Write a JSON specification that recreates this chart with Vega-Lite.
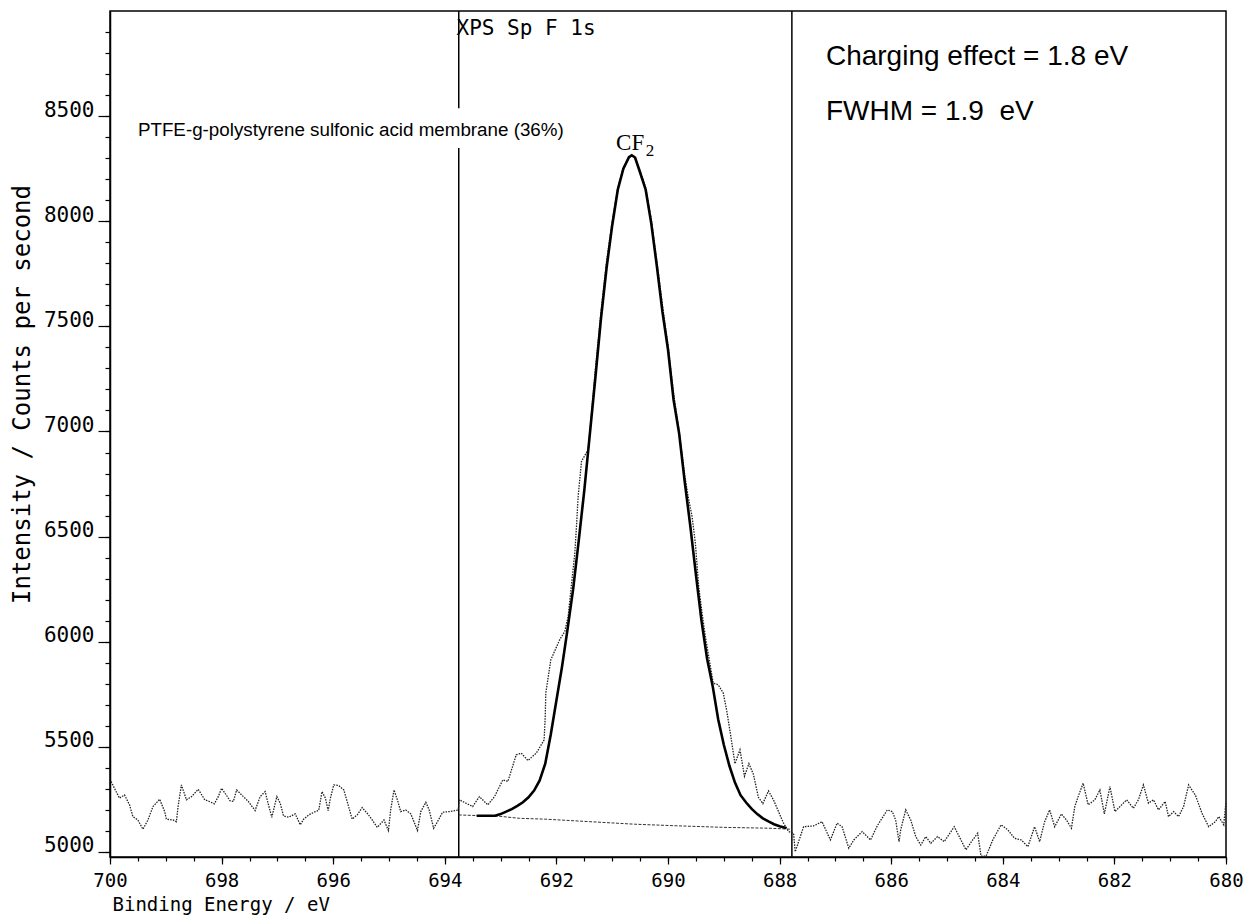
{
  "$schema": "https://vega.github.io/schema/vega-lite/v6.json",
  "width": 1116,
  "height": 846,
  "autosize": {"type": "none"},
  "padding": {"left": 110, "top": 11, "right": 22, "bottom": 58},
  "background": "white",
  "config": {
    "view": {"stroke": "black", "strokeWidth": 1.5},
    "axis": {"grid": false, "domainColor": "black", "domainWidth": 1.5, "tickColor": "black", "tickWidth": 1.2, "labelColor": "black", "titleColor": "black", "labelFont": "DejaVu Sans Mono", "titleFont": "DejaVu Sans Mono", "titleFontWeight": "normal", "labelOverlap": false, "labelBound": false, "labelFlush": false}
  },
  "resolve": {"axis": {"x": "independent", "y": "independent"}},
  "datasets": {
    "raw": [
      {"E": 699.98, "I": 5335}, {"E": 699.92, "I": 5303}, {"E": 699.83, "I": 5256}, {"E": 699.74, "I": 5271}, {"E": 699.65, "I": 5224}, {"E": 699.59, "I": 5168}, {"E": 699.50, "I": 5152}, {"E": 699.41, "I": 5108}, {"E": 699.32, "I": 5152}, {"E": 699.23, "I": 5216}, {"E": 699.11, "I": 5251}, {"E": 699.02, "I": 5192}, {"E": 698.99, "I": 5156}, {"E": 698.87, "I": 5152}, {"E": 698.81, "I": 5144}, {"E": 698.78, "I": 5216}, {"E": 698.72, "I": 5319}, {"E": 698.63, "I": 5248}, {"E": 698.54, "I": 5263}, {"E": 698.42, "I": 5298}, {"E": 698.30, "I": 5248}, {"E": 698.22, "I": 5240}, {"E": 698.13, "I": 5229}, {"E": 698.06, "I": 5263}, {"E": 698.00, "I": 5303}, {"E": 697.94, "I": 5280}, {"E": 697.85, "I": 5244}, {"E": 697.79, "I": 5240}, {"E": 697.73, "I": 5295}, {"E": 697.64, "I": 5271}, {"E": 697.52, "I": 5240}, {"E": 697.40, "I": 5197}, {"E": 697.31, "I": 5263}, {"E": 697.22, "I": 5287}, {"E": 697.16, "I": 5224}, {"E": 697.10, "I": 5165}, {"E": 697.01, "I": 5263}, {"E": 696.95, "I": 5232}, {"E": 696.89, "I": 5171}, {"E": 696.80, "I": 5165}, {"E": 696.68, "I": 5181}, {"E": 696.59, "I": 5129}, {"E": 696.53, "I": 5156}, {"E": 696.44, "I": 5176}, {"E": 696.32, "I": 5192}, {"E": 696.26, "I": 5197}, {"E": 696.20, "I": 5287}, {"E": 696.14, "I": 5256}, {"E": 696.09, "I": 5197}, {"E": 696.05, "I": 5256}, {"E": 695.99, "I": 5319}, {"E": 695.90, "I": 5316}, {"E": 695.81, "I": 5295}, {"E": 695.75, "I": 5240}, {"E": 695.66, "I": 5156}, {"E": 695.57, "I": 5176}, {"E": 695.48, "I": 5211}, {"E": 695.39, "I": 5184}, {"E": 695.30, "I": 5152}, {"E": 695.21, "I": 5117}, {"E": 695.09, "I": 5152}, {"E": 695.01, "I": 5102}, {"E": 694.97, "I": 5200}, {"E": 694.91, "I": 5295}, {"E": 694.85, "I": 5248}, {"E": 694.79, "I": 5192}, {"E": 694.70, "I": 5200}, {"E": 694.61, "I": 5181}, {"E": 694.49, "I": 5102}, {"E": 694.43, "I": 5192}, {"E": 694.34, "I": 5236}, {"E": 694.28, "I": 5200}, {"E": 694.20, "I": 5113}, {"E": 694.13, "I": 5144}, {"E": 694.04, "I": 5189}, {"E": 693.92, "I": 5192}, {"E": 693.80, "I": 5197}, {"E": 693.76, "I": 5200}, {"E": 693.74, "I": 5248}, {"E": 693.50, "I": 5216}, {"E": 693.38, "I": 5263}, {"E": 693.23, "I": 5224}, {"E": 693.11, "I": 5263}, {"E": 692.96, "I": 5343}, {"E": 692.87, "I": 5335}, {"E": 692.72, "I": 5462}, {"E": 692.63, "I": 5470}, {"E": 692.51, "I": 5435}, {"E": 692.36, "I": 5470}, {"E": 692.22, "I": 5533}, {"E": 692.20, "I": 5644}, {"E": 692.19, "I": 5756}, {"E": 692.10, "I": 5914}, {"E": 691.94, "I": 6010}, {"E": 691.85, "I": 6049}, {"E": 691.79, "I": 6120}, {"E": 691.67, "I": 6422}, {"E": 691.64, "I": 6549}, {"E": 691.61, "I": 6692}, {"E": 691.55, "I": 6858}, {"E": 691.43, "I": 6914}, {"E": 691.35, "I": 7150}, {"E": 691.30, "I": 7300}, {"E": 691.20, "I": 7570}, {"E": 691.10, "I": 7810}, {"E": 691.00, "I": 8000}, {"E": 690.90, "I": 8160}, {"E": 690.80, "I": 8255}, {"E": 690.70, "I": 8300}, {"E": 690.65, "I": 8312}, {"E": 690.60, "I": 8305}, {"E": 690.50, "I": 8240}, {"E": 690.40, "I": 8160}, {"E": 690.30, "I": 8010}, {"E": 690.20, "I": 7810}, {"E": 690.10, "I": 7600}, {"E": 690.00, "I": 7410}, {"E": 689.90, "I": 7180}, {"E": 689.80, "I": 7000}, {"E": 689.70, "I": 6790}, {"E": 689.64, "I": 6692}, {"E": 689.57, "I": 6597}, {"E": 689.51, "I": 6470}, {"E": 689.45, "I": 6263}, {"E": 689.39, "I": 6137}, {"E": 689.33, "I": 6025}, {"E": 689.19, "I": 5803}, {"E": 689.10, "I": 5795}, {"E": 689.01, "I": 5756}, {"E": 688.95, "I": 5676}, {"E": 688.88, "I": 5560}, {"E": 688.80, "I": 5420}, {"E": 688.71, "I": 5486}, {"E": 688.63, "I": 5360}, {"E": 688.55, "I": 5420}, {"E": 688.47, "I": 5370}, {"E": 688.38, "I": 5260}, {"E": 688.30, "I": 5230}, {"E": 688.20, "I": 5290}, {"E": 688.11, "I": 5248}, {"E": 688.00, "I": 5180}, {"E": 687.93, "I": 5137}, {"E": 687.84, "I": 5097}, {"E": 687.75, "I": 5089}, {"E": 687.72, "I": 5001}, {"E": 687.57, "I": 5120}, {"E": 687.39, "I": 5124}, {"E": 687.24, "I": 5144}, {"E": 687.09, "I": 5057}, {"E": 686.97, "I": 5137}, {"E": 686.88, "I": 5120}, {"E": 686.76, "I": 5018}, {"E": 686.67, "I": 5057}, {"E": 686.52, "I": 5097}, {"E": 686.37, "I": 5057}, {"E": 686.25, "I": 5124}, {"E": 686.07, "I": 5200}, {"E": 685.98, "I": 5192}, {"E": 685.92, "I": 5152}, {"E": 685.86, "I": 5049}, {"E": 685.83, "I": 5105}, {"E": 685.74, "I": 5200}, {"E": 685.65, "I": 5152}, {"E": 685.56, "I": 5073}, {"E": 685.47, "I": 5033}, {"E": 685.38, "I": 5073}, {"E": 685.29, "I": 5041}, {"E": 685.17, "I": 5073}, {"E": 685.05, "I": 5049}, {"E": 684.87, "I": 5120}, {"E": 684.75, "I": 5057}, {"E": 684.66, "I": 5010}, {"E": 684.54, "I": 5057}, {"E": 684.45, "I": 5089}, {"E": 684.39, "I": 4980}, {"E": 684.30, "I": 4980}, {"E": 684.18, "I": 5057}, {"E": 684.03, "I": 5129}, {"E": 683.91, "I": 5105}, {"E": 683.79, "I": 5065}, {"E": 683.67, "I": 5057}, {"E": 683.55, "I": 5025}, {"E": 683.43, "I": 5120}, {"E": 683.34, "I": 5049}, {"E": 683.25, "I": 5144}, {"E": 683.16, "I": 5200}, {"E": 683.07, "I": 5120}, {"E": 682.95, "I": 5181}, {"E": 682.86, "I": 5152}, {"E": 682.77, "I": 5113}, {"E": 682.71, "I": 5216}, {"E": 682.65, "I": 5263}, {"E": 682.56, "I": 5327}, {"E": 682.47, "I": 5224}, {"E": 682.35, "I": 5248}, {"E": 682.26, "I": 5295}, {"E": 682.18, "I": 5181}, {"E": 682.08, "I": 5311}, {"E": 681.99, "I": 5192}, {"E": 681.87, "I": 5224}, {"E": 681.78, "I": 5248}, {"E": 681.66, "I": 5208}, {"E": 681.57, "I": 5248}, {"E": 681.48, "I": 5319}, {"E": 681.39, "I": 5232}, {"E": 681.30, "I": 5248}, {"E": 681.21, "I": 5200}, {"E": 681.09, "I": 5240}, {"E": 681.03, "I": 5168}, {"E": 680.94, "I": 5192}, {"E": 680.85, "I": 5168}, {"E": 680.76, "I": 5216}, {"E": 680.67, "I": 5319}, {"E": 680.55, "I": 5271}, {"E": 680.43, "I": 5184}, {"E": 680.31, "I": 5120}, {"E": 680.19, "I": 5144}, {"E": 680.13, "I": 5168}, {"E": 680.04, "I": 5129}, {"E": 680.00, "I": 5240}
    ],
    "fit": [
      {"E": 693.43, "I": 5172}, {"E": 693.10, "I": 5172}, {"E": 693.00, "I": 5180}, {"E": 692.90, "I": 5192}, {"E": 692.80, "I": 5204}, {"E": 692.70, "I": 5219}, {"E": 692.60, "I": 5236}, {"E": 692.50, "I": 5260}, {"E": 692.40, "I": 5292}, {"E": 692.30, "I": 5340}, {"E": 692.20, "I": 5420}, {"E": 692.10, "I": 5560}, {"E": 692.00, "I": 5720}, {"E": 691.90, "I": 5880}, {"E": 691.80, "I": 6060}, {"E": 691.70, "I": 6250}, {"E": 691.60, "I": 6480}, {"E": 691.50, "I": 6720}, {"E": 691.40, "I": 6990}, {"E": 691.30, "I": 7260}, {"E": 691.20, "I": 7540}, {"E": 691.10, "I": 7780}, {"E": 691.00, "I": 7980}, {"E": 690.90, "I": 8150}, {"E": 690.80, "I": 8250}, {"E": 690.70, "I": 8305}, {"E": 690.65, "I": 8314}, {"E": 690.59, "I": 8303}, {"E": 690.50, "I": 8232}, {"E": 690.40, "I": 8150}, {"E": 690.30, "I": 7990}, {"E": 690.20, "I": 7787}, {"E": 690.10, "I": 7570}, {"E": 690.00, "I": 7390}, {"E": 689.90, "I": 7150}, {"E": 689.80, "I": 6990}, {"E": 689.70, "I": 6760}, {"E": 689.60, "I": 6550}, {"E": 689.50, "I": 6320}, {"E": 689.40, "I": 6100}, {"E": 689.30, "I": 5920}, {"E": 689.20, "I": 5790}, {"E": 689.10, "I": 5630}, {"E": 689.00, "I": 5510}, {"E": 688.90, "I": 5410}, {"E": 688.80, "I": 5330}, {"E": 688.70, "I": 5270}, {"E": 688.60, "I": 5235}, {"E": 688.50, "I": 5205}, {"E": 688.40, "I": 5180}, {"E": 688.30, "I": 5160}, {"E": 688.20, "I": 5145}, {"E": 688.10, "I": 5132}, {"E": 688.00, "I": 5122}, {"E": 687.88, "I": 5114}
    ],
    "bg": [
      {"E": 693.75, "I": 5176}, {"E": 693.03, "I": 5170}, {"E": 692.66, "I": 5160}, {"E": 692.20, "I": 5156}, {"E": 691.40, "I": 5144}, {"E": 690.60, "I": 5132}, {"E": 689.80, "I": 5124}, {"E": 689.00, "I": 5117}, {"E": 688.20, "I": 5113}, {"E": 687.78, "I": 5108}
    ],
    "vlines": [
      {"E": 693.75, "top": 9000, "bottom": 8538},
      {"E": 693.75, "top": 8348, "bottom": 4976},
      {"E": 687.78, "top": 9000, "bottom": 4976}
    ]
  },
  "layer": [
    {
      "data": {"name": "vlines"},
      "mark": {"type": "rule", "color": "black", "strokeWidth": 1.5},
      "encoding": {
        "x": {
          "field": "E", "type": "quantitative", "scale": {"domain": [700, 680], "nice": false},
          "axis": {
            "orient": "bottom",
            "values": [700, 699.5, 699, 698.5, 698, 697.5, 697, 696.5, 696, 695.5, 695, 694.5, 694, 693.5, 693, 692.5, 692, 691.5, 691, 690.5, 690, 689.5, 689, 688.5, 688, 687.5, 687, 686.5, 686, 685.5, 685, 684.5, 684, 683.5, 683, 682.5, 682, 681.5, 681, 680.5, 680],
            "labels": false, "domain": false, "tickSize": 4, "title": null
          }
        },
        "y": {
          "field": "top", "type": "quantitative", "scale": {"domain": [4976, 9000], "nice": false, "zero": false},
          "axis": {
            "orient": "left",
            "values": [5000, 5100, 5200, 5300, 5400, 5500, 5600, 5700, 5800, 5900, 6000, 6100, 6200, 6300, 6400, 6500, 6600, 6700, 6800, 6900, 7000, 7100, 7200, 7300, 7400, 7500, 7600, 7700, 7800, 7900, 8000, 8100, 8200, 8300, 8400, 8500, 8600, 8700, 8800, 8900],
            "labels": false, "domain": false, "tickSize": 5, "title": null
          }
        },
        "y2": {"field": "bottom"}
      }
    },
    {
      "data": {"name": "bg"},
      "mark": {"type": "line", "color": "#333333", "strokeWidth": 1, "strokeDash": [3, 1.5]},
      "encoding": {
        "x": {"field": "E", "type": "quantitative", "scale": {"domain": [700, 680], "nice": false}, "axis": null},
        "y": {"field": "I", "type": "quantitative", "scale": {"domain": [4976, 9000], "nice": false, "zero": false}, "axis": null}
      }
    },
    {
      "data": {"name": "raw"},
      "mark": {"type": "line", "color": "#222222", "strokeWidth": 1.3, "strokeDash": [1.5, 1.2]},
      "encoding": {
        "x": {
          "field": "E", "type": "quantitative",
          "scale": {"domain": [700, 680], "nice": false},
          "axis": {
            "orient": "bottom",
            "values": [700, 698, 696, 694, 692, 690, 688, 686, 684, 682, 680],
            "format": "d",
            "tickSize": 7,
            "labelPadding": 7,
            "labelFontSize": 19,
            "labelBaseline": "top",
            "title": "Binding Energy / eV",
            "titleFontSize": 19,
            "titleAnchor": "start",
            "titleAlign": "left",
            "titleBaseline": "alphabetic",
            "titleX": 2,
            "titleY": 53
          }
        },
        "y": {
          "field": "I", "type": "quantitative",
          "scale": {"domain": [4976, 9000], "nice": false, "zero": false},
          "axis": {
            "orient": "left",
            "values": [5000, 5500, 6000, 6500, 7000, 7500, 8000, 8500],
            "format": "d",
            "tickSize": 12,
            "labelPadding": 4,
            "labelFontSize": 21,
            "labelBaseline": "alphabetic",
            "labelAlign": "right",
            "title": "Intensity / Counts per second",
            "titleFontSize": 24,
            "titleAngle": -90,
            "titleAlign": "center",
            "titleBaseline": "middle",
            "titleX": -88,
            "titleY": 383
          }
        }
      }
    },
    {
      "data": {"name": "fit"},
      "mark": {"type": "line", "color": "black", "strokeWidth": 2.6},
      "encoding": {
        "x": {"field": "E", "type": "quantitative", "scale": {"domain": [700, 680], "nice": false}, "axis": null},
        "y": {"field": "I", "type": "quantitative", "scale": {"domain": [4976, 9000], "nice": false, "zero": false}, "axis": null}
      }
    },
    {
      "data": {"values": [{}]},
      "mark": {"type": "text", "text": "XPS Sp F 1s", "align": "left", "baseline": "alphabetic", "font": "DejaVu Sans Mono", "fontSize": 21, "color": "black"},
      "encoding": {
        "x": {"datum": 693.79, "type": "quantitative", "scale": {"domain": [700, 680], "nice": false}, "axis": null},
        "y": {"datum": 8885, "type": "quantitative", "scale": {"domain": [4976, 9000], "nice": false, "zero": false}, "axis": null}
      }
    },
    {
      "data": {"values": [{}]},
      "mark": {"type": "text", "text": "PTFE-g-polystyrene sulfonic acid membrane (36%)", "align": "left", "baseline": "alphabetic", "font": "Liberation Sans", "fontSize": 18.8, "color": "black"},
      "encoding": {
        "x": {"datum": 699.5, "type": "quantitative", "scale": {"domain": [700, 680], "nice": false}, "axis": null},
        "y": {"datum": 8406, "type": "quantitative", "scale": {"domain": [4976, 9000], "nice": false, "zero": false}, "axis": null}
      }
    },
    {
      "data": {"values": [{}]},
      "mark": {"type": "text", "text": "CF", "align": "left", "baseline": "alphabetic", "font": "Liberation Serif", "fontSize": 23, "color": "black"},
      "encoding": {
        "x": {"datum": 690.93, "type": "quantitative", "scale": {"domain": [700, 680], "nice": false}, "axis": null},
        "y": {"datum": 8338, "type": "quantitative", "scale": {"domain": [4976, 9000], "nice": false, "zero": false}, "axis": null}
      }
    },
    {
      "data": {"values": [{}]},
      "mark": {"type": "text", "text": "2", "align": "left", "baseline": "alphabetic", "font": "Liberation Serif", "fontSize": 17, "color": "black"},
      "encoding": {
        "x": {"datum": 690.4, "type": "quantitative", "scale": {"domain": [700, 680], "nice": false}, "axis": null},
        "y": {"datum": 8311, "type": "quantitative", "scale": {"domain": [4976, 9000], "nice": false, "zero": false}, "axis": null}
      }
    },
    {
      "data": {"values": [{}]},
      "mark": {"type": "text", "text": "Charging effect = 1.8 eV", "align": "left", "baseline": "alphabetic", "font": "Liberation Sans", "fontSize": 28, "color": "black"},
      "encoding": {
        "x": {"datum": 687.17, "type": "quantitative", "scale": {"domain": [700, 680], "nice": false}, "axis": null},
        "y": {"datum": 8742, "type": "quantitative", "scale": {"domain": [4976, 9000], "nice": false, "zero": false}, "axis": null}
      }
    },
    {
      "data": {"values": [{}]},
      "mark": {"type": "text", "text": "FWHM = 1.9\u00a0 eV", "align": "left", "baseline": "alphabetic", "font": "Liberation Sans", "fontSize": 28, "color": "black"},
      "encoding": {
        "x": {"datum": 687.17, "type": "quantitative", "scale": {"domain": [700, 680], "nice": false}, "axis": null},
        "y": {"datum": 8481, "type": "quantitative", "scale": {"domain": [4976, 9000], "nice": false, "zero": false}, "axis": null}
      }
    }
  ]
}
